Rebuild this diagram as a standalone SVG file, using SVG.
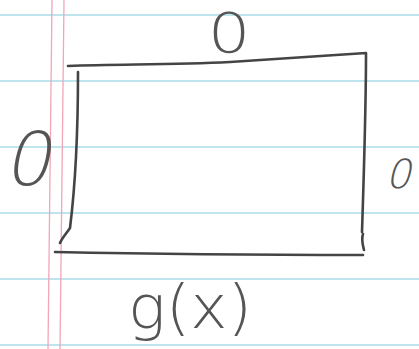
<svg xmlns="http://www.w3.org/2000/svg" width="419" height="349" viewBox="0 0 419 349">
<style>
.rule{stroke:#a9dbe9;stroke-width:1.3;fill:none}
.margin{stroke:#f2a6b8;stroke-width:1.3;fill:none}
.ink{stroke:#444;stroke-width:2.6;fill:none;stroke-linecap:round;stroke-linejoin:round}
.lbl{font-family:"DejaVu Sans","Liberation Sans",sans-serif;fill:#555;font-weight:300}
</style>
<rect width="419" height="349" fill="#ffffff"/>
<g id="paper">
<path class="rule" d="M0 15 H419"/>
<path class="rule" d="M0 81 H419"/>
<path class="rule" d="M0 147 H419"/>
<path class="rule" d="M0 213 H419"/>
<path class="rule" d="M0 279 H419"/>
<path class="rule" d="M0 345 H419"/>
<path class="margin" d="M52 0 L48 349"/>
<path class="margin" d="M64 0 L60 349"/>
</g>
<g id="box">
<path class="ink" d="M68 66 C120 64 170 65 230 62 C290 58 330 55 366 53 C366 110 364 170 362 232 M363 234 C361 240 363 246 364 250"/>
<path class="ink" d="M78 72 C78 120 76 180 70 228 C66 234 62 238 60 243"/>
<path class="ink" d="M55 252 C150 254 250 255 363 255"/>
</g>
<g id="labels">
<text class="lbl" x="0" y="0" font-size="56" text-anchor="middle" transform="translate(229,52) scale(1.2,1)">0</text>
<text class="lbl" x="0" y="0" font-size="74" text-anchor="middle" transform="translate(27,185) skewX(-12)">0</text>
<text class="lbl" x="0" y="0" font-size="40" text-anchor="middle" transform="translate(398,188) skewX(-14)">0</text>
<text class="lbl" x="128" y="328" font-size="60" textLength="124" lengthAdjust="spacingAndGlyphs">g(x)</text>
</g>
</svg>
